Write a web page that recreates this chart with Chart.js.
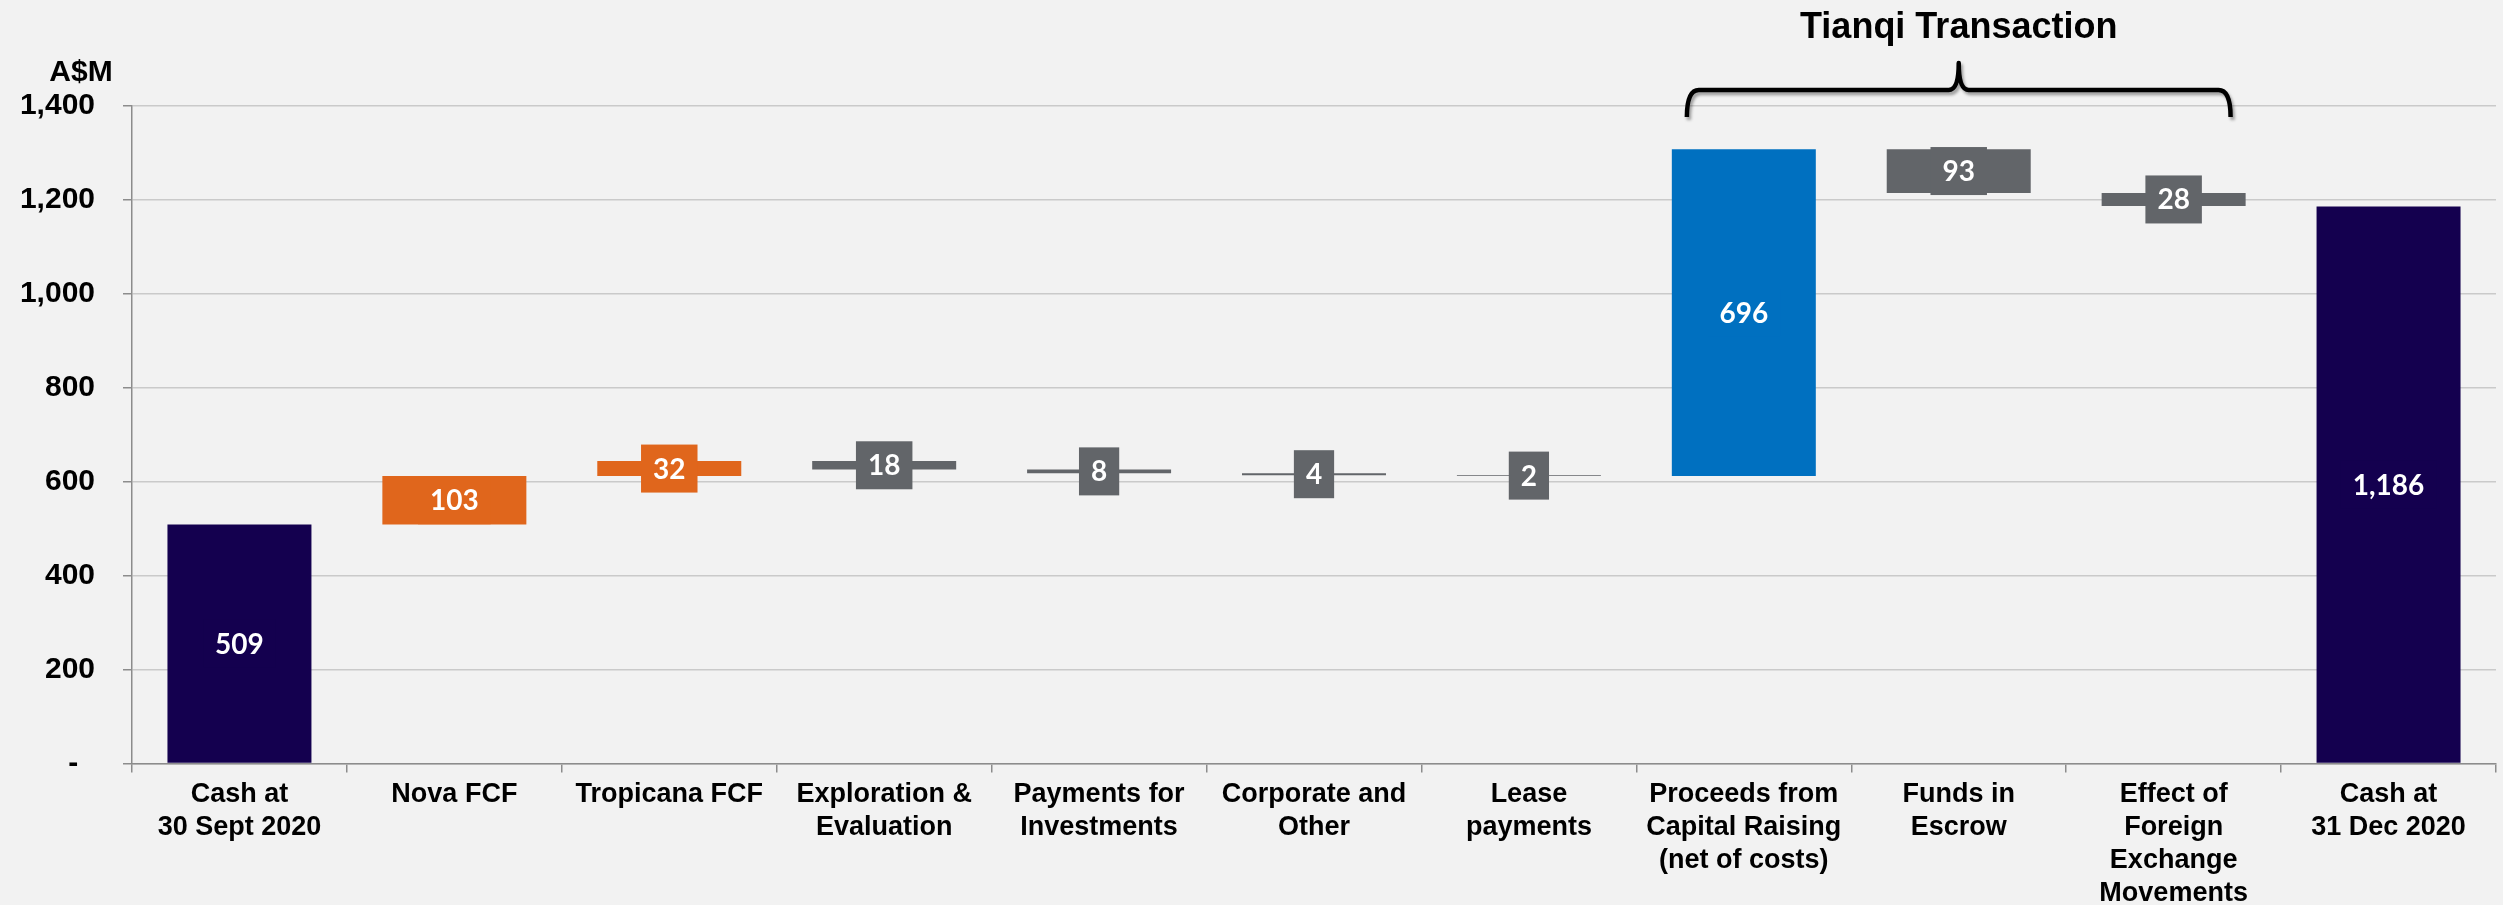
<!DOCTYPE html>
<html>
<head>
<meta charset="utf-8">
<script src="https://cdn.jsdelivr.net/npm/chart.js@4.4.0/dist/chart.umd.min.js"></script>
<style>
  html, body { margin: 0; padding: 0; background: #F2F2F2; }
  #wrap { width: 2503px; height: 905px; }
</style>
</head>
<body>
<div id="wrap"><canvas id="waterfall"></canvas></div>
<script>
// Catégories et valeurs (A$M)
var categories = [
    ['Cash at', '30 Sept 2020'],
    'Nova FCF',
    'Tropicana FCF',
    ['Exploration &', 'Evaluation'],
    ['Payments for', 'Investments'],
    ['Corporate and', 'Other'],
    ['Lease', 'payments'],
    ['Proceeds from', 'Capital Raising', '(net of costs)'],
    ['Funds in', 'Escrow'],
    ['Effect of', 'Foreign', 'Exchange', 'Movements'],
    ['Cash at', '31 Dec 2020']
];
var barStart = [0, 509, 612, 626, 618, 614, 612, 612, 1215, 1187, 0];
var barEnd = [509, 612, 644, 644, 626, 618, 614, 1308, 1308, 1215, 1186];
var valueLabels = ['509', '103', '32', '18', '8', '4', '2', '696', '93', '28', '1,186'];
var barColors = ['#14004F', '#E0661C', '#E0661C', '#626569', '#626569', '#626569',
    '#626569', '#0070C0', '#626569', '#626569', '#14004F'];
var yTicks = [0, 200, 400, 600, 800, 1000, 1200, 1400];

var bars = barStart.map(function (s, i) { return [s, barEnd[i]]; });

// fond gris clair
var background = {
    id: 'background',
    beforeDraw: function (chart) {
        var c = chart.ctx;
        c.save();
        c.fillStyle = '#F2F2F2';
        c.fillRect(0, 0, chart.width, chart.height);
        c.restore();
    }
};

// étiquettes de valeur avec petit cadre de la couleur de la barre
var valueBoxes = {
    id: 'valueBoxes',
    afterDatasetsDraw: function (chart) {
        var c = chart.ctx;
        var meta = chart.getDatasetMeta(0);
        c.save();
        c.font = 'bold 28px Lato';
        c.textAlign = 'center';
        c.textBaseline = 'middle';
        meta.data.forEach(function (bar, i) {
            var p = bar.getProps(['x', 'y', 'base'], true);
            var cy = (p.y + p.base) / 2;
            var w = c.measureText(valueLabels[i]).width + 24;
            var h = 48;
            c.fillStyle = barColors[i];
            c.fillRect(p.x - w / 2, cy - h / 2, w, h);
            c.fillStyle = '#FFFFFF';
            c.fillText(valueLabels[i], p.x, cy + 1);
        });
        c.restore();
    }
};

// titre "Tianqi Transaction", accolade et unité A$M
var annotations = {
    id: 'annotations',
    afterDraw: function (chart) {
        var c = chart.ctx;
        var x = chart.scales.x;
        var top = chart.chartArea.top;
        var catW = x.getPixelForValue(1) - x.getPixelForValue(0);
        var L = x.getPixelForValue(7) - 0.265 * catW;
        var R = x.getPixelForValue(9) + 0.265 * catW;
        var M = (L + R) / 2;
        var yEnd = top + 11, yBar = top - 16, yPeak = top - 43;

        c.save();
        c.fillStyle = '#000000';
        c.font = 'bold 30px "Liberation Sans", Arial';
        c.textAlign = 'center';
        c.textBaseline = 'middle';
        c.fillText('A$M', 81, top - 33);

        c.font = 'bold 36px "Liberation Sans", Arial';
        c.fillText('Tianqi Transaction', M, top - 78);

        c.shadowColor = 'rgba(0,0,0,0.35)';
        c.shadowOffsetX = 2;
        c.shadowOffsetY = 3;
        c.shadowBlur = 3;
        c.strokeStyle = '#000000';
        c.lineWidth = 4.5;
        c.lineJoin = 'round';
        c.beginPath();
        c.moveTo(L, yEnd);
        c.quadraticCurveTo(L, yBar, L + 12, yBar);
        c.lineTo(M - 10, yBar);
        c.quadraticCurveTo(M, yBar, M, yPeak);
        c.quadraticCurveTo(M, yBar, M + 10, yBar);
        c.lineTo(R - 12, yBar);
        c.quadraticCurveTo(R, yBar, R, yEnd);
        c.stroke();
        c.restore();
    }
};

var ctx = document.getElementById('waterfall').getContext('2d');

var myChart = new Chart(ctx, {
    type: 'bar',
    data: {
        labels: categories,
        datasets: [{
            data: bars,
            backgroundColor: barColors,
            borderWidth: 0,
            categoryPercentage: 1,
            barPercentage: 0.67
        }]
    },
    options: {
        responsive: true,
        maintainAspectRatio: false,
        animation: false,
        devicePixelRatio: 1,
        layout: { padding: { top: 106, right: 7, left: 0, bottom: 0 } },
        plugins: {
            legend: { display: false },
            tooltip: { enabled: false }
        },
        scales: {
            x: {
                grid: {
                    offset: true,
                    drawOnChartArea: false,
                    drawTicks: true,
                    tickLength: 9,
                    tickColor: '#8C8C8C',
                    lineWidth: 1.5
                },
                border: { color: '#8C8C8C', width: 1.5 },
                ticks: {
                    color: '#000000',
                    padding: 6,
                    maxRotation: 0,
                    autoSkip: false,
                    font: { family: '"Liberation Sans", Arial', size: 27, weight: 'bold', lineHeight: 1.22 }
                },
                afterFit: function (scale) { scale.height = 141.5; }
            },
            y: {
                min: 0,
                max: 1400,
                afterBuildTicks: function (scale) {
                    scale.ticks = yTicks.map(function (v) { return { value: v }; });
                },
                grid: {
                    color: '#CACACA',
                    lineWidth: 1.5,
                    drawTicks: true,
                    tickLength: 9,
                    tickColor: '#8C8C8C'
                },
                border: { color: '#8C8C8C', width: 1.5 },
                ticks: {
                    color: '#000000',
                    padding: 28,
                    font: { family: '"Liberation Sans", Arial', size: 30, weight: 'bold' },
                    callback: function (value) {
                        return value === 0 ? '-  ' : value.toLocaleString('en-US');
                    }
                },
                afterFit: function (scale) { scale.width = 132; }
            }
        }
    },
    plugins: [background, valueBoxes, annotations]
});
</script>
</body>
</html>
